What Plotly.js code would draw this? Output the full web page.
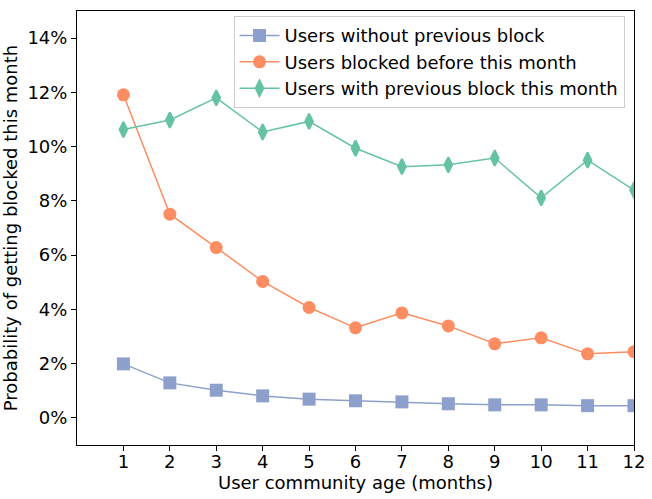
<!DOCTYPE html>
<html>
<head>
<meta charset="utf-8">
<script src="https://cdn.plot.ly/plotly-3.0.1.min.js"></script>
<style>html,body{margin:0;padding:0;background:#fff;}#chart{width:652px;height:499px;}</style>
</head>
<body>
<div id="chart"></div>
<script>
var months = [1, 2, 3, 4, 5, 6, 7, 8, 9, 10, 11, 12];
var noPrevBlock = [0.0199, 0.0129, 0.0102, 0.0081, 0.0069, 0.0063, 0.0059, 0.0052, 0.0048, 0.0048, 0.0045, 0.0045];
var blockedBefore = [0.1191, 0.0751, 0.0628, 0.0503, 0.0407, 0.0332, 0.0387, 0.0339, 0.0273, 0.0295, 0.0236, 0.0244];
var prevBlockThisMonth = [0.1063, 0.1098, 0.1180, 0.1054, 0.1093, 0.0994, 0.0926, 0.0933, 0.0958, 0.0811, 0.0950, 0.0840];
var seriesNames = ["Users without previous block", "Users blocked before this month", "Users with previous block this month"];
var yTickVals = [0, 0.02, 0.04, 0.06, 0.08, 0.10, 0.12, 0.14];

var traces = [
  {x: months, y: noPrevBlock, name: seriesNames[0], mode: "lines+markers",
   line: {color: "#8da0cb", width: 1.5},
   marker: {symbol: "square", size: 13, color: "#8da0cb"}},
  {x: months, y: blockedBefore, name: seriesNames[1], mode: "lines+markers",
   line: {color: "#fc8d62", width: 1.5},
   marker: {symbol: "circle", size: 13, color: "#fc8d62"}},
  {x: months, y: prevBlockThisMonth, name: seriesNames[2], mode: "lines+markers",
   line: {color: "#66c2a5", width: 1.5},
   marker: {symbol: "diamond-tall", size: 11, color: "#66c2a5", line: {color: "#66c2a5", width: 2}}}
];

var layout = {
  width: 652, height: 499,
  margin: {l: 76.5, r: 17.7, t: 10.7, b: 54},
  paper_bgcolor: "#fff", plot_bgcolor: "#fff",
  font: {family: "DejaVu Sans", size: 18, color: "#000"},
  showlegend: true,
  legend: {x: 0.983, y: 0.988, xanchor: "right", yanchor: "top",
           bgcolor: "rgba(255,255,255,0.8)", bordercolor: "#cccccc", borderwidth: 1,
           font: {family: "DejaVu Sans", size: 18, color: "#000"}, itemwidth: 40},
  xaxis: {range: [0, 12], tickvals: months, ticktext: months.map(String),
          showgrid: false, zeroline: false, showline: true, mirror: true,
          linecolor: "#000", linewidth: 1, ticks: "outside", ticklen: 5, tickwidth: 1, tickcolor: "#000",
          ticklabelstandoff: -5,
          title: {text: "User community age (months)", font: {size: 18}, standoff: 1}},
  yaxis: {range: [-0.01, 0.15], tickvals: yTickVals, tickformat: ".0%",
          showgrid: false, zeroline: false, showline: true, mirror: true,
          linecolor: "#000", linewidth: 1, ticks: "outside", ticklen: 5, tickwidth: 1, tickcolor: "#000",
          title: {text: "Probability of getting blocked this month", font: {size: 18}, standoff: 6}}
};

Plotly.newPlot("chart", traces, layout, {displayModeBar: false, staticPlot: true});
</script>
</body>
</html>
